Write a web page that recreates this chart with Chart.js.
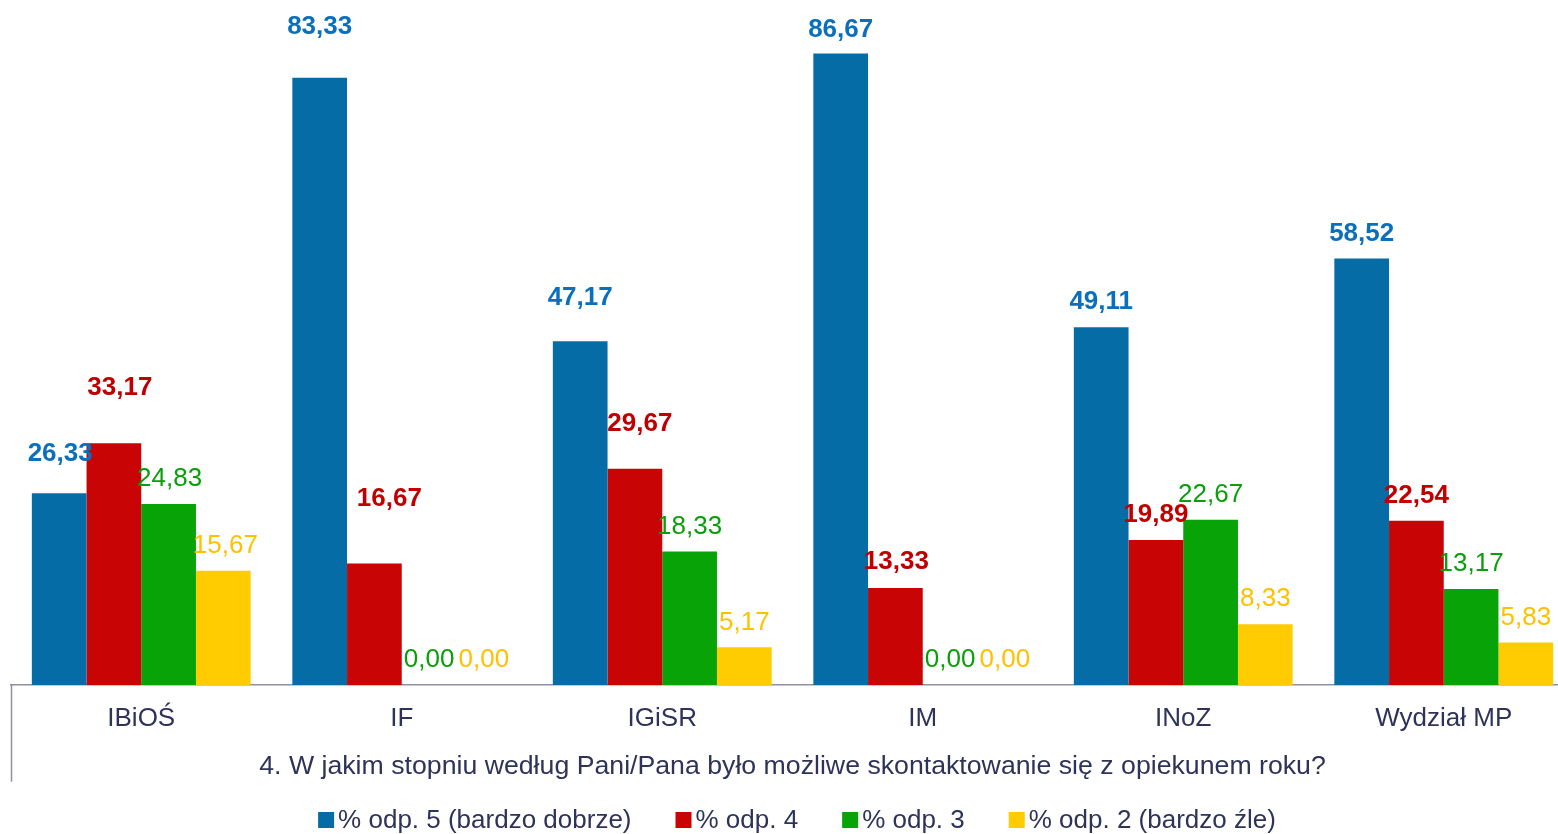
<!DOCTYPE html>
<html>
<head>
<meta charset="utf-8">
<script src="https://cdn.jsdelivr.net/npm/chart.js@4/dist/chart.umd.min.js"></script>
<style>
  html, body { margin: 0; padding: 0; background: #ffffff; overflow: hidden; }
  #wrap { width: 1574px; height: 834px; }
</style>
</head>
<body>
<div id="wrap"><canvas id="c" width="1574" height="834"></canvas></div>
<script>
// ---- data ----
const categories = ['IBiOŚ', 'IF', 'IGiSR', 'IM', 'INoZ', 'Wydział MP'];
const seriesNames = ['% odp. 5 (bardzo dobrze)', '% odp. 4', '% odp. 3', '% odp. 2 (bardzo źle)'];
const odp5 = [26.33, 83.33, 47.17, 86.67, 49.11, 58.52];
const odp4 = [33.17, 16.67, 29.67, 13.33, 19.89, 22.54];
const odp3 = [24.83, 0.00, 18.33, 0.00, 22.67, 13.17];
const odp2 = [15.67, 0.00, 5.17, 0.00, 8.33, 5.83];
const axisTitle = '4. W jakim stopniu według Pani/Pana było możliwe skontaktowanie się z opiekunem roku?';

// ---- styles ----
const barColors = ['#066CA5', '#C80405', '#07A307', '#FFCC02'];
const labelColors = ['#0A70BE', '#C00000', '#0A9E0A', '#FFC000'];
const labelBold = [true, true, false, false];
// label lift above bar top (px) and sideways nudge, as placed in the original
const labelLift = [
  [39, 51, 43, 24, 25, 25],
  [55, 65, 45, 26, 25, 25],
  [25, 25, 25, 25, 25, 25],
  [25, 25, 25, 25, 25, 25]
];
const labelShift = [
  [1, 0, 0, 0, 0, 0],
  [6, 15, 5, 1, 0, 0],
  [1, 0, 0, 0, 0, 0],
  [2, 0, 0, 0, 0, 0]
];
const textColor = '#2E3359';
const axisColor = '#8E90A0';
const FONT = "'Liberation Sans', Arial, sans-serif";

const seriesValues = [odp5, odp4, odp3, odp2];

const datasets = seriesValues.map((vals, i) => ({
  label: seriesNames[i],
  data: vals,
  backgroundColor: barColors[i],
  borderWidth: 0,
  categoryPercentage: 0.84,
  barPercentage: 1.0
}));

const fmt = v => v.toFixed(2).replace('.', ',');

const valueLabels = {
  id: 'valueLabels',
  afterDatasetsDraw(chart) {
    const ctx = chart.ctx;
    ctx.save();
    ctx.textAlign = 'center';
    ctx.textBaseline = 'middle';
    chart.data.datasets.forEach((ds, di) => {
      const meta = chart.getDatasetMeta(di);
      ctx.font = (labelBold[di] ? 'bold ' : '') + '26px ' + FONT;
      ctx.fillStyle = labelColors[di];
      meta.data.forEach((el, i) => {
        ctx.fillText(fmt(ds.data[i]), el.x + labelShift[di][i], el.y - labelLift[di][i]);
      });
    });
    ctx.restore();
  }
};

const frameAndLegend = {
  id: 'frameAndLegend',
  afterDraw(chart) {
    const ctx = chart.ctx;
    const area = chart.chartArea;
    const xs = chart.scales.x;
    ctx.save();
    // left vertical frame line through the category area
    ctx.strokeStyle = axisColor;
    ctx.lineWidth = 1.5;
    ctx.beginPath();
    ctx.moveTo(area.left + 0.5, area.bottom);
    ctx.lineTo(area.left + 0.5, xs.bottom);
    ctx.stroke();
    // legend
    ctx.font = '26px ' + FONT;
    ctx.textBaseline = 'middle';
    ctx.textAlign = 'left';
    const box = 16, gap = 4, spacing = 44;
    const widths = seriesNames.map(n => ctx.measureText(n).width);
    const total = widths.reduce((a, b) => a + b, 0) + seriesNames.length * (box + gap) + (seriesNames.length - 1) * spacing;
    let x = 797 - total / 2;
    const cy = 820;
    seriesNames.forEach((n, i) => {
      ctx.fillStyle = barColors[i];
      ctx.fillRect(x, cy - box / 2, box, box);
      x += box + gap;
      ctx.fillStyle = textColor;
      ctx.fillText(n, x, cy + 1);
      x += widths[i] + spacing;
    });
    ctx.restore();
  }
};

new Chart(document.getElementById('c'), {
  type: 'bar',
  data: { labels: categories, datasets },
  options: {
    responsive: false,
    devicePixelRatio: 1,
    animation: false,
    layout: { padding: { left: 11, right: 0, top: 0, bottom: 52.3 } },
    plugins: {
      legend: { display: false },
      tooltip: { enabled: false }
    },
    scales: {
      x: {
        grid: { display: false, drawTicks: false },
        border: { display: true, color: axisColor, width: 1.5 },
        ticks: {
          color: textColor,
          font: { family: FONT, size: 26, lineHeight: 1.0 },
          padding: 21,
          maxRotation: 0,
          autoSkip: false
        },
        title: {
          display: true,
          text: axisTitle,
          color: textColor,
          font: { family: FONT, size: 26.7, lineHeight: 1.1 },
          padding: { top: -0.7, bottom: 0 }
        }
      },
      y: {
        display: false,
        min: 0,
        max: 94
      }
    }
  },
  plugins: [valueLabels, frameAndLegend]
});
</script>
</body>
</html>
